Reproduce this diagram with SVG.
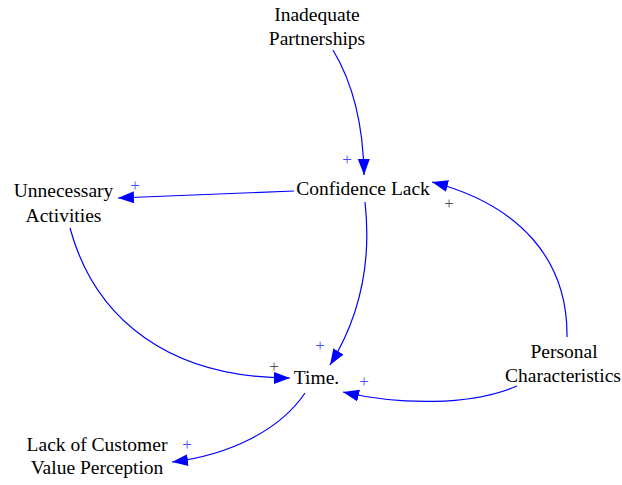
<svg xmlns="http://www.w3.org/2000/svg" width="622" height="485" viewBox="0 0 622 485">
<style>
.t{font-family:'Liberation Serif','Times New Roman',serif;font-size:19.5px;fill:#000;text-anchor:middle}
.c{fill:none;stroke:#0000ff;stroke-width:1.2}
.pb{font-family:'Liberation Serif',serif;font-size:17px;fill:#4a4aff;text-anchor:middle}
.pg{font-family:'Liberation Serif',serif;font-size:17px;fill:#505050;text-anchor:middle}
</style>
<defs>
<marker id="a" markerUnits="userSpaceOnUse" markerWidth="18" markerHeight="14" refX="16" refY="6" orient="auto">
<path d="M0,0 L16,6 L0,12 Z" fill="#0000ff"/>
</marker>
</defs>
<rect width="622" height="485" fill="#fff"/>
<g id="connectors">
<path class="c" marker-end="url(#a)" d="M333,50 Q363,100 364,175"/>
<path class="c" marker-end="url(#a)" d="M294,191 L118,198"/>
<path class="c" marker-end="url(#a)" d="M70,228 C95,320 170,378 290,378"/>
<path class="c" marker-end="url(#a)" d="M365,202 C372,265 358,320 330,365"/>
<path class="c" marker-end="url(#a)" d="M567,337 C568,260 520,205 432,182"/>
<path class="c" marker-end="url(#a)" d="M517,386 C470,406 400,405 343,392"/>
<path class="c" marker-end="url(#a)" d="M305,393 C280,430 230,455 172,462"/>
</g>
<g id="polarities">
<text class="pb" x="347" y="165">+</text>
<text class="pb" x="135" y="191">+</text>
<text class="pb" x="320" y="351">+</text>
<text class="pb" x="364" y="387">+</text>
<text class="pb" x="187" y="450">+</text>
<text class="pg" x="449" y="209">+</text>
<text class="pg" x="274" y="372">+</text>
</g>
<g id="inadequate-partnerships"><text class="t" x="317" y="21">Inadequate</text><text class="t" x="317" y="45">Partnerships</text></g>
<g id="confidence-lack"><text class="t" x="363" y="195">Confidence Lack</text></g>
<g id="unnecessary-activities"><text class="t" x="63.5" y="197">Unnecessary</text><text class="t" x="63.5" y="222">Activities</text></g>
<g id="time"><text class="t" x="316.5" y="384">Time.</text></g>
<g id="personal-characteristics"><text class="t" x="564" y="358">Personal</text><text class="t" x="563" y="382">Characteristics</text></g>
<g id="lack-customer-value"><text class="t" x="97" y="451">Lack of Customer</text><text class="t" x="97" y="474">Value Perception</text></g>
</svg>
